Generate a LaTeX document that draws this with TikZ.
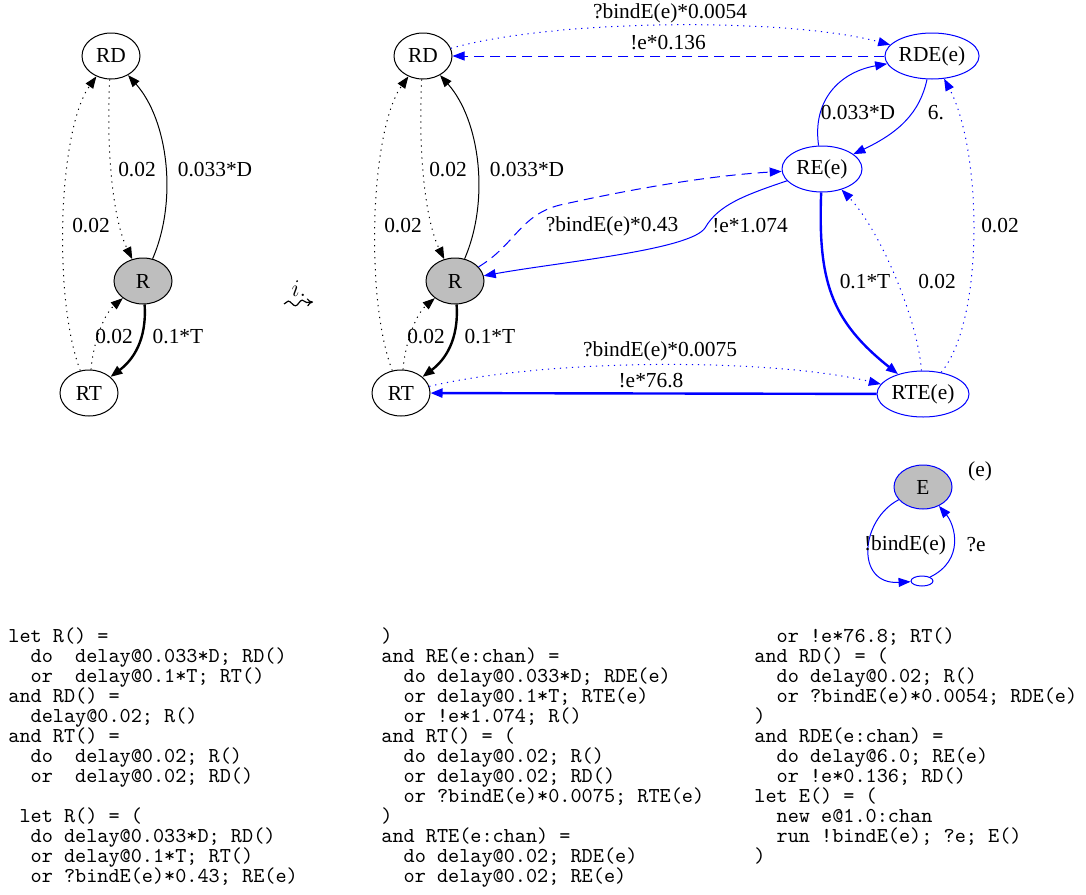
\documentclass[tikz,border=0pt]{standalone}
\usepackage{amsmath,amssymb}
\usepackage{fontspec}
\setmainfont{Liberation Serif}
\usetikzlibrary{arrows.meta,shapes.geometric,decorations.pathmorphing}
\definecolor{ngray}{RGB}{190,190,190}
\tikzset{
  st/.style={ellipse,draw,line width=0.5pt,inner sep=0pt,minimum width=58\pxu,minimum height=46\pxu,font=\lbl},
  blu/.style={draw=blue},
  e/.style={line width=0.5pt,-{Triangle[length=6pt,width=4.5pt]}},
  thk/.style={line width=1.2pt},
  dot/.style={dash pattern=on 0.6pt off 2.4pt},
  dsh/.style={dash pattern=on 5pt off 3pt},
  lab/.style={font=\lbl,inner sep=1pt},
  code/.style={font=\fontsize{10.6}{10}\ttfamily,align=left,anchor=north west,inner sep=0pt}
}
\newcommand\lbl{\fontsize{10.7}{12}\selectfont}
\newlength\pxu \setlength\pxu{0.5pt}
\begin{document}
\begin{tikzpicture}[x=0.5pt,y=-0.5pt]
\useasboundingbox (0,0) rectangle (1086,894);
% ---------- left graph ----------
\node[st] (lRD) at (111,56) {RD};
\node[st,fill=ngray] (lR) at (143,281) {R};
\node[st] (lRT) at (89,393) {RT};
\draw[e] (lR) .. controls (178,200) and (168,120) .. (lRD);
\draw[e,dot] (lRD) .. controls (106,150) and (113,220) .. (lR);
\draw[e,dot] (lRT) .. controls (53,300) and (58,130) .. (lRD);
\draw[e,dot] (lRT) .. controls (93,345) and (103,315) .. (lR);
\draw[e,thk] (lR) .. controls (147,340) and (133,360) .. (lRT);
\node[lab] at (137,170) {0.02};
\node[lab] at (215,170) {0.033*D};
\node[lab] at (91,226) {0.02};
\node[lab] at (114,337) {0.02};
\node[lab] at (178,337) {0.1*T};
% ---------- squiggle ----------
\node[inner sep=0pt,font=\fontsize{12}{14}\selectfont] (sqi) at (299,289) {$i.$};
\coordinate (sqa) at (284,304);
\coordinate (sqb) at (313,302);
\draw[line width=0.6pt,-{To[length=3pt,width=4pt]},decorate,decoration={snake,amplitude=1.3pt,segment length=7pt,post length=2.5pt}] (sqa) -- (sqb);
% ---------- middle graph ----------
\node[st] (RD) at (423,56) {RD};
\node[st,fill=ngray] (R) at (455,281) {R};
\node[st] (RT) at (401,393) {RT};
\node[st,blu,minimum width=94\pxu] (RDE) at (932,56) {RDE(e)};
\node[st,blu,minimum width=80\pxu] (RE) at (822,169) {RE(e)};
\node[st,blu,minimum width=92\pxu] (RTE) at (923,394) {RTE(e)};
\draw[e] (R) .. controls (490,200) and (480,120) .. (RD);
\draw[e,dot] (RD) .. controls (418,150) and (425,220) .. (R);
\draw[e,dot] (RT) .. controls (365,300) and (370,130) .. (RD);
\draw[e,dot] (RT) .. controls (405,345) and (415,315) .. (R);
\draw[e,thk] (R) .. controls (459,340) and (445,360) .. (RT);
\node[lab] at (448,170) {0.02};
\node[lab] at (527,170) {0.033*D};
\node[lab] at (403,226) {0.02};
\node[lab] at (426,337) {0.02};
\node[lab] at (490,337) {0.1*T};
% blue edges
\draw[e,dot,blue] (RD) .. controls (560,18) and (790,18) .. (RDE);
\draw[e,dsh,blue] (RDE) -- (RD);
\draw[e,blue] (RE) .. controls (812,100) and (840,72) .. (RDE);
\draw[e,blue] (RDE) .. controls (920,112) and (900,132) .. (RE);
\draw[e,dsh,blue] (R) .. controls (515,245) and (520,215) .. (560,205) .. controls (650,185) and (720,175) .. (RE);
\draw[e,blue] (RE) .. controls (745,195) and (718,205) .. (705,228) .. controls (690,250) and (560,262) .. (R);
\draw[e,thk,blue] (RE) .. controls (818,280) and (830,320) .. (RTE);
\draw[e,dot,blue] (RTE) .. controls (918,320) and (880,230) .. (RE);
\draw[e,dot,blue] (RTE) .. controls (985,320) and (982,150) .. (RDE);
\draw[e,dot,blue] (RT) .. controls (550,358) and (770,358) .. (RTE);
\draw[e,thk,blue] (RTE) -- (RT);
\node[lab] at (670,13) {?bindE(e)*0.0054};
\node[lab] at (668,43) {!e*0.136};
\node[lab] at (858,113) {0.033*D};
\node[lab] at (936,113) {6.};
\node[lab] at (612,226) {?bindE(e)*0.43};
\node[lab] at (750,226) {!e*1.074};
\node[lab] at (865,282) {0.1*T};
\node[lab] at (937,282) {0.02};
\node[lab] at (1000,226) {0.02};
\node[lab] at (660,351) {?bindE(e)*0.0075};
\node[lab] at (651,381) {!e*76.8};
% ---------- E ----------
\node[st,blu,fill=ngray,minimum width=58\pxu,minimum height=44\pxu] (E) at (923,487) {E};
\node[ellipse,draw=blue,line width=0.5pt,minimum width=22\pxu,minimum height=10\pxu,inner sep=0pt] (sm) at (922,581) {};
\node[lab] (el) at (980,471) {(e)};
\draw[e,blue] (E) .. controls (860,520) and (855,585) .. (sm);
\draw[e,blue] (sm) .. controls (965,560) and (955,525) .. (E);
\node[lab] at (905,545) {!bindE(e)};
\node[lab] at (976,545) {?e};
% ---------- code ----------
\node[code] (c1) at (8,627) {let R() =\\
\ \ do\ \ delay@0.033*D; RD()\\
\ \ or\ \ delay@0.1*T; RT()\\
and RD() =\\
\ \ delay@0.02; R()\\
and RT() =\\
\ \ do\ \ delay@0.02; R()\\
\ \ or\ \ delay@0.02; RD()\\
\mbox{}\\
\ let R() = (\\
\ \ do delay@0.033*D; RD()\\
\ \ or delay@0.1*T; RT()\\
\ \ or ?bindE(e)*0.43; RE(e)};
\node[code] (c2) at (381,627) {)\\
and RE(e:chan) =\\
\ \ do delay@0.033*D; RDE(e)\\
\ \ or delay@0.1*T; RTE(e)\\
\ \ or !e*1.074; R()\\
and RT() = (\\
\ \ do delay@0.02; R()\\
\ \ or delay@0.02; RD()\\
\ \ or ?bindE(e)*0.0075; RTE(e)\\
)\\
and RTE(e:chan) =\\
\ \ do delay@0.02; RDE(e)\\
\ \ or delay@0.02; RE(e)};
\node[code] (c3) at (754,627) {\ \ or !e*76.8; RT()\\
and RD() = (\\
\ \ do delay@0.02; R()\\
\ \ or ?bindE(e)*0.0054; RDE(e)\\
)\\
and RDE(e:chan) =\\
\ \ do delay@6.0; RE(e)\\
\ \ or !e*0.136; RD()\\
let E() = (\\
\ \ new e@1.0:chan\\
\ \ run !bindE(e); ?e; E()\\
)};
\end{tikzpicture}
\end{document}
